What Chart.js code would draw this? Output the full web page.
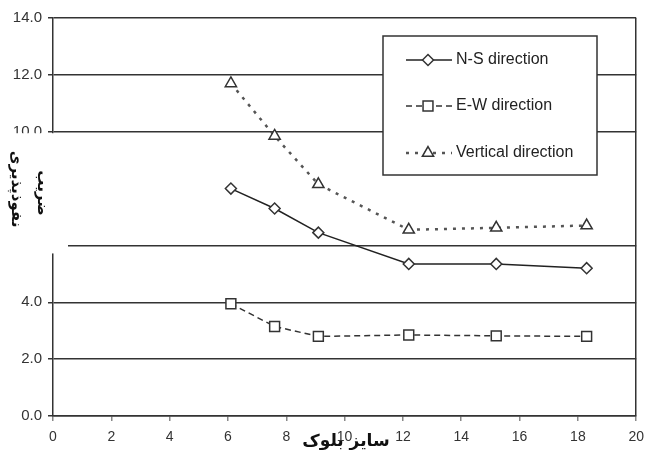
<!DOCTYPE html>
<html>
<head>
<meta charset="utf-8">
<script src="https://cdn.jsdelivr.net/npm/chart.js@4"></script>
<style>
  body { margin: 0; background: #fff; }
  canvas { display: block; }
</style>
</head>
<body>
<canvas id="chart" width="652" height="450"></canvas>
<script>
const blockSize = [6.1, 7.6, 9.1, 12.2, 15.2, 18.3];
const nsValues = [8.0, 7.3, 6.45, 5.35, 5.35, 5.2];
const ewValues = [3.95, 3.15, 2.8, 2.85, 2.82, 2.8];
const verticalValues = [11.7, 9.85, 8.15, 6.55, 6.62, 6.7];
const seriesLabels = ['N-S direction', 'E-W direction', 'Vertical direction'];
const xTitle = 'سایز بلوک';
const yTitle = ['ضریب', 'نفوذپذیری'];
const hiddenYTicks = [6, 8];

const toPoints = values => values.map((v, i) => ({ x: blockSize[i], y: v }));

// boxed legend inside the plot + the patched-over y title
const overlay = {
    id: 'overlay',
    afterDraw(chart) {
        const ctx = chart.ctx;
        const y = chart.scales.y;
        ctx.save();

        // white patch over the axis between 10 and 6 (as in the scan)
        ctx.fillStyle = '#fff';
        const top = y.getPixelForValue(10) + 1.5;
        const bottom = y.getPixelForValue(6) + 8;
        ctx.fillRect(0, top, 68, bottom - top);

        // y title, rotated, two lines
        ctx.fillStyle = '#111';
        ctx.font = 'bold 15px "DejaVu Sans"';
        ctx.textAlign = 'center';
        ctx.textBaseline = 'middle';
        ctx.direction = 'rtl';
        [[42, 193, yTitle[0]], [16, 189, yTitle[1]]].forEach(([tx, ty, t]) => {
            ctx.save();
            ctx.translate(tx, ty);
            ctx.rotate(Math.PI / 2);
            ctx.fillText(t, 0, 0);
            ctx.restore();
        });

        // x title overlapping the "10" label
        ctx.font = 'bold 17px "DejaVu Sans"';
        ctx.fillText(xTitle, 346, 442);
        ctx.direction = 'ltr';

        // legend
        ctx.fillStyle = '#fff';
        ctx.strokeStyle = '#333';
        ctx.lineWidth = 1.5;
        ctx.fillRect(383, 36, 214, 139);
        ctx.strokeRect(383, 36, 214, 139);
        const rows = [60, 106, 153];
        chart.data.datasets.forEach((ds, i) => {
            const ly = rows[i];
            ctx.save();
            ctx.strokeStyle = ds.borderColor;
            ctx.lineWidth = ds.borderWidth;
            ctx.setLineDash(ds.borderDash || []);
            ctx.beginPath();
            ctx.moveTo(406, ly);
            ctx.lineTo(452, ly);
            ctx.stroke();
            ctx.setLineDash([]);
            ctx.fillStyle = '#fff';
            ctx.strokeStyle = ds.pointBorderColor;
            ctx.lineWidth = ds.pointBorderWidth;
            Chart.helpers.drawPoint(ctx, { pointStyle: ds.pointStyle, radius: ds.pointRadius, borderWidth: ds.pointBorderWidth }, 428, ly);
            ctx.restore();
            ctx.fillStyle = '#222';
            ctx.font = '16px "Liberation Sans", Arial';
            ctx.textAlign = 'left';
            ctx.fillText(ds.label, 456, ly);
        });
        ctx.restore();
    }
};

new Chart(document.getElementById('chart'), {
    type: 'line',
    data: {
        datasets: [
            {
                label: seriesLabels[0],
                data: toPoints(nsValues),
                borderColor: '#222',
                borderWidth: 1.5,
                pointStyle: 'rectRot',
                pointRadius: 5.5,
                pointBorderColor: '#333',
                pointBorderWidth: 1.5,
                pointBackgroundColor: '#fff'
            },
            {
                label: seriesLabels[1],
                data: toPoints(ewValues),
                borderColor: '#333',
                borderWidth: 1.5,
                borderDash: [6, 4],
                pointStyle: 'rect',
                pointRadius: 7,
                pointBorderColor: '#333',
                pointBorderWidth: 1.5,
                pointBackgroundColor: '#fff'
            },
            {
                label: seriesLabels[2],
                data: toPoints(verticalValues),
                borderColor: '#555',
                borderWidth: 2.5,
                borderDash: [3, 6],
                pointStyle: 'triangle',
                pointRadius: 6.5,
                pointBorderColor: '#333',
                pointBorderWidth: 1.5,
                pointBackgroundColor: '#fff'
            }
        ]
    },
    options: {
        responsive: false,
        animation: false,
        layout: { padding: { top: 18, right: 12, left: 0, bottom: 0 } },
        plugins: { legend: { display: false }, tooltip: { enabled: false } },
        scales: {
            x: {
                type: 'linear',
                min: 0,
                max: 20,
                ticks: { stepSize: 2, color: '#333', padding: 8, font: { size: 14, family: '"Liberation Sans", Arial' } },
                grid: {
                    color: c => c.tick && c.tick.value === 20 ? '#333' : 'rgba(0,0,0,0)',
                    lineWidth: 1.5,
                    tickColor: '#888',
                    tickLength: 5
                },
                border: { display: true, color: '#333', width: 1.5 },
                afterFit: s => { s.height = 34; }
            },
            y: {
                min: 0,
                max: 14,
                ticks: {
                    stepSize: 2,
                    color: '#333',
                    padding: 6,
                    font: { size: 15, family: '"Liberation Sans", Arial' },
                    callback: v => hiddenYTicks.includes(v) ? '' : v.toFixed(1)
                },
                grid: {
                    color: c => c.tick && c.tick.value === 8 ? 'rgba(0,0,0,0)' : '#333',
                    lineWidth: 1.5,
                    tickColor: '#333',
                    tickLength: 5
                },
                border: { display: true, color: '#333', width: 1.5 },
                afterFit: s => { s.width = 53; }
            }
        }
    },
    plugins: [overlay]
});
</script>
</body>
</html>
